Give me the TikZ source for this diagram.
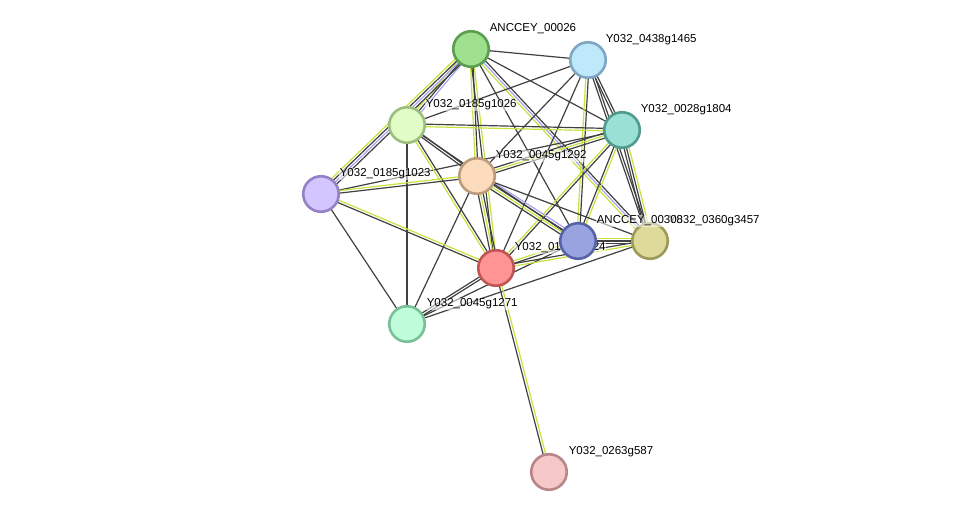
\documentclass[tikz,border=0pt]{standalone}
\usepackage{fontspec}
\setmainfont{Liberation Sans}
\usetikzlibrary{calc}
\pgfdeclarelayer{bg}
\pgfsetlayers{bg,main}
\definecolor{kc}{HTML}{404040}
\definecolor{yc}{HTML}{C4E33E}
\definecolor{bc}{HTML}{A4A4F4}
\definecolor{fA}{HTML}{9FE08F}\definecolor{dA}{HTML}{5C9E50}
\definecolor{fB}{HTML}{C0E8FB}\definecolor{dB}{HTML}{7DA7C2}
\definecolor{fC}{HTML}{99E0D5}\definecolor{dC}{HTML}{4F9B8E}
\definecolor{fD}{HTML}{E1FDC5}\definecolor{dD}{HTML}{9DBE7D}
\definecolor{fE}{HTML}{FDDCBE}\definecolor{dE}{HTML}{BC9C7D}
\definecolor{fF}{HTML}{D3C5FD}\definecolor{dF}{HTML}{9482C5}
\definecolor{fG}{HTML}{98A3E0}\definecolor{dG}{HTML}{5663A6}
\definecolor{fH}{HTML}{DEDB9A}\definecolor{dH}{HTML}{9C9A59}
\definecolor{fI}{HTML}{FE9494}\definecolor{dI}{HTML}{C05656}
\definecolor{fJ}{HTML}{BEFCDA}\definecolor{dJ}{HTML}{79C09A}
\definecolor{fK}{HTML}{F6C8C8}\definecolor{dK}{HTML}{B88686}
\tikzset{
  prot/.style={circle, minimum size=35.5pt, inner sep=0pt, line width=2.6pt},
  lab/.style={anchor=base west, inner sep=0.6pt, fill=white, fill opacity=0.55, text opacity=1,
    font=\fontsize{11.5}{13}\selectfont},
  evline/.style={line width=1.2pt}
}
\newcommand\gedge[3]{%
  \foreach \c [count=\i] in {#3} {\xdef\ncount{\i}}%
  \foreach \c [count=\i] in {#3} {%
    \pgfmathsetmacro\off{(\i-(\ncount+1)/2)*2.5}%
    \draw[evline, \c] ($(#1)!\off pt!90:(#2)$) -- ($(#2)!\off pt!-90:(#1)$);
  }}
\begin{document}
\begin{tikzpicture}[x=1pt,y=-1pt]
\useasboundingbox (0,0) rectangle (975,518);
% nodes
\node[prot, fill=fA, draw=dA] (A) at (471,49) {};
\node[prot, fill=fB, draw=dB] (B) at (588,60) {};
\node[prot, fill=fC, draw=dC] (C) at (622,130) {};
\node[prot, fill=fD, draw=dD] (D) at (407,125) {};
\node[prot, fill=fE, draw=dE] (E) at (477,176) {};
\node[prot, fill=fF, draw=dF] (F) at (321,194) {};
\node[prot, fill=fH, draw=dH] (H) at (650,241) {};
\node[prot, fill=fJ, draw=dJ] (J) at (407,324) {};
\node[prot, fill=fK, draw=dK] (K) at (549,472) {};
\node[prot, fill=fI, draw=dI] (I) at (496,268) {};
\node[lab] (lI) at ($(I)+(18,-17)$) {Y032\_0185g1024};
\node[prot, fill=fG, draw=dG] (G) at (578,241) {};
% labels
\node[lab] (lA) at ($(A)+(18,-17)$) {ANCCEY\_00026};
\node[lab] (lB) at ($(B)+(17,-17)$) {Y032\_0438g1465};
\node[lab] (lC) at ($(C)+(18,-17)$) {Y032\_0028g1804};
\node[lab] (lD) at ($(D)+(18,-17)$) {Y032\_0185g1026};
\node[lab] (lE) at ($(E)+(18,-17)$) {Y032\_0045g1292};
\node[lab] (lF) at ($(F)+(18,-17)$) {Y032\_0185g1023};
\node[lab] (lJ) at ($(J)+(19,-17)$) {Y032\_0045g1271};
\node[lab] (lK) at ($(K)+(19,-17)$) {Y032\_0263g587};
\node[lab] (lH) at ($(H)+(18,-17)$) {Y032\_0360g3457};
\node[lab] (lG) at ($(G)+(18,-17)$) {ANCCEY\_00308};
% edges
\begin{pgfonlayer}{bg}
\gedge{A}{B}{kc}
\gedge{A}{C}{kc}
\gedge{A}{D}{yc,kc,bc}
\gedge{A}{F}{yc,kc,bc,kc}
\gedge{A}{E}{yc,kc}
\gedge{A}{I}{kc,yc}
\gedge{A}{G}{kc}
\gedge{A}{H}{yc,bc,kc}
\gedge{B}{D}{kc}
\gedge{B}{E}{kc}
\gedge{B}{C}{kc,kc}
\gedge{B}{I}{kc}
\gedge{B}{G}{yc,kc}
\gedge{B}{H}{kc,kc}
\gedge{C}{D}{kc,yc}
\gedge{C}{E}{kc,yc,kc}
\gedge{C}{F}{kc}
\gedge{C}{G}{kc,yc}
\gedge{C}{I}{yc,kc}
\gedge{C}{H}{kc,kc,yc}
\gedge{D}{E}{kc,kc}
\gedge{D}{I}{yc,kc}
\gedge{D}{G}{kc}
\gedge{D}{J}{kc}
\gedge{E}{F}{yc,kc}
\gedge{E}{I}{kc,yc,kc}
\gedge{E}{G}{kc,yc,kc,bc}
\gedge{E}{H}{kc}
\gedge{E}{J}{kc}
\gedge{F}{I}{kc,yc}
\gedge{F}{J}{kc}
\gedge{G}{I}{yc,kc}
\gedge{G}{H}{kc,kc,yc}
\gedge{G}{J}{kc}
\gedge{H}{I}{kc,yc}
\gedge{H}{J}{kc}
\gedge{I}{J}{kc,kc}
\gedge{I}{K}{kc,yc}
\end{pgfonlayer}
\end{tikzpicture}
\end{document}
